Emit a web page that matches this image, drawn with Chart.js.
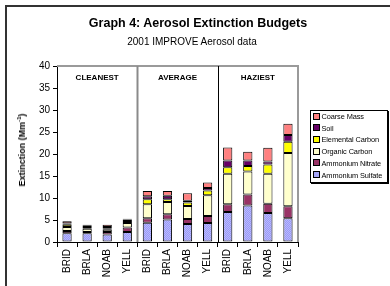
<!DOCTYPE html>
<html>
<head>
<meta charset="utf-8">
<script src="https://cdn.jsdelivr.net/npm/chart.js@4"></script>
<style>
  html,body{margin:0;padding:0;background:#fff;}
  #wrap{position:relative;width:390px;height:286px;overflow:hidden;font-family:"Liberation Sans",Arial,sans-serif;}
  #frame{position:absolute;left:5px;top:5px;right:-10px;bottom:-10px;border-top:2px solid #333;border-left:2px solid #333;}
  canvas{position:absolute;left:0;top:0;}
  .t{position:absolute;white-space:nowrap;color:#000;}
  #title{left:0;width:396px;top:16px;text-align:center;font-weight:bold;font-size:12.5px;}
  #sub{left:0;width:384px;top:36px;text-align:center;font-size:10px;}
  #ytitle{left:22px;top:150px;font-weight:bold;font-size:9px;transform:translate(-50%,-50%) rotate(-90deg);}
  #ytitle sup{font-size:6px;vertical-align:4px;line-height:0;}
  #legend{position:absolute;left:310px;top:110px;width:76px;height:71px;border:1px solid #000;box-shadow:1px 1px 0 #000;background:#fff;font-size:7.4px;}
  #legend div{position:absolute;left:2px;height:10px;line-height:10px;white-space:nowrap;letter-spacing:-0.1px;}
  #legend span{display:inline-block;width:5px;height:5px;border:1px solid #000;margin-right:1.5px;vertical-align:-0.5px;}
</style>
</head>
<body>
<div id="wrap">
  <div id="frame"></div>
  <canvas id="c" width="390" height="286"></canvas>
  <div class="t" id="title">Graph 4: Aerosol Extinction Budgets</div>
  <div class="t" id="sub">2001 IMPROVE Aerosol data</div>
  <div class="t" id="ytitle">Extinction (Mm<sup>-1</sup>)</div>
  <div id="legend"></div>
</div>
<script>
const categories = ['BRID','BRLA','NOAB','YELL','BRID','BRLA','NOAB','YELL','BRID','BRLA','NOAB','YELL'];
const groups = ['CLEANEST','AVERAGE','HAZIEST'];
const groupSize = 4;
const yMax = 40;
const yStep = 5;

const ammoniumSulfate = [2.0, 2.0, 1.7, 2.3,   4.4, 5.1, 4.1, 4.3,   6.8, 8.3, 6.6, 5.4];
const ammoniumNitrate = [0.5, 0.3, 0.6, 1.0,   1.0, 1.2, 1.1, 1.6,   1.8, 2.5, 2.1, 2.7];
const organicCarbon   = [0.9, 0.7, 0.5, 1.0,   3.2, 2.8, 3.0, 4.7,   6.9, 5.2, 6.8, 12.1];
const elementalCarbon = [0.5, 0.4, 0.2, 0.5,   1.1, 0.6, 0.8, 1.1,   1.5, 1.3, 2.1, 2.6];
const soil            = [0.3, 0.3, 0.4, 0.3,   0.7, 0.8, 0.4, 0.6,   1.5, 1.2, 0.7, 1.5];
const coarseMass      = [0.5, 0.2, 0.5, 0.2,   1.2, 1.1, 1.7, 1.2,   3.0, 2.0, 3.1, 2.6];

function sulfatePattern(){
  const p = document.createElement('canvas');
  p.width = 2; p.height = 2;
  const g = p.getContext('2d');
  g.fillStyle = '#9a9af5'; g.fillRect(0,0,2,2);
  g.fillStyle = '#b8b8ff'; g.fillRect(0,0,1,1); g.fillRect(1,1,1,1);
  return g.createPattern(p,'repeat');
}

const series = [
  {label:'Ammonium Sulfate', data:ammoniumSulfate, color:sulfatePattern(), sw:'#a8a8fa'},
  {label:'Ammonium Nitrate', data:ammoniumNitrate, color:'#993366', sw:'#993366'},
  {label:'Organic Carbon',   data:organicCarbon,   color:'#ffffcc', sw:'#ffffcc'},
  {label:'Elemental Carbon', data:elementalCarbon, color:'#ffff00', sw:'#ffff00'},
  {label:'Soil',             data:soil,            color:'#660066', sw:'#660066'},
  {label:'Coarse Mass',      data:coarseMass,      color:'#ff8080', sw:'#ff8080'}
];

const leg = document.getElementById('legend');
series.slice().reverse().forEach((s,i)=>{
  const d = document.createElement('div');
  d.style.top = (1 + i*11.7) + 'px';
  d.innerHTML = '<span style="background:'+s.sw+'"></span>'+s.label;
  leg.appendChild(d);
});

const deco = {
  id:'deco',
  afterDraw(chart){
    const {ctx, chartArea:a, scales:{x}} = chart;
    ctx.save();
    ctx.strokeStyle = '#9a9a9a';
    ctx.lineWidth = 2;
    ctx.beginPath();
    ctx.moveTo(a.left, a.top); ctx.lineTo(a.right, a.top); ctx.lineTo(a.right, a.bottom);
    ctx.stroke();
    const half = (x.getPixelForValue(1) - x.getPixelForValue(0))/2;
    for (let gi=1; gi<groups.length; gi++){
      const xp = Math.round(x.getPixelForValue(gi*groupSize) - half) + 0.5;
      ctx.strokeStyle = gi===1 ? '#8a8a8a' : '#000';
      ctx.lineWidth = gi===1 ? 2 : 1;
      ctx.beginPath(); ctx.moveTo(xp, a.top); ctx.lineTo(xp, a.bottom); ctx.stroke();
    }
    ctx.fillStyle = '#000';
    ctx.font = 'bold 8px "Liberation Sans", Arial, sans-serif';
    ctx.textAlign = 'center'; ctx.textBaseline = 'middle';
    groups.forEach((g,gi)=>{
      const cx = (x.getPixelForValue(gi*groupSize) + x.getPixelForValue(gi*groupSize+groupSize-1))/2;
      ctx.fillText(g, cx, a.top + 12);
    });
    ctx.restore();
  }
};

new Chart(document.getElementById('c'), {
  type:'bar',
  data:{
    labels:categories,
    datasets: series.map(s=>({
      label:s.label, data:s.data, backgroundColor:s.color,
      borderColor:'#000', borderWidth:1, borderSkipped:false,
      categoryPercentage:1, barPercentage:0.46
    }))
  },
  options:{
    responsive:false, animation:false, devicePixelRatio:1,
    layout:{padding:{top:66, right:92, left:0, bottom:0}},
    plugins:{legend:{display:false}, title:{display:false}, tooltip:{enabled:false}},
    scales:{
      x:{
        stacked:true,
        grid:{offset:true, drawOnChartArea:false, tickLength:5, color:'#000'},
        border:{color:'#000', width:1},
        ticks:{minRotation:90, maxRotation:90, color:'#000', padding:2,
               font:{family:'"Liberation Sans", Arial, sans-serif', size:10}},
        afterFit(s){ s.height = 44; }
      },
      y:{
        stacked:true, min:0, max:yMax,
        grid:{drawOnChartArea:false, tickLength:4, color:'#000'},
        border:{color:'#000', width:1},
        ticks:{stepSize:yStep, color:'#000', padding:3,
               font:{family:'"Liberation Sans", Arial, sans-serif', size:10}},
        afterFit(s){ s.width = 57; }
      }
    }
  },
  plugins:[deco]
});
</script>
</body>
</html>
